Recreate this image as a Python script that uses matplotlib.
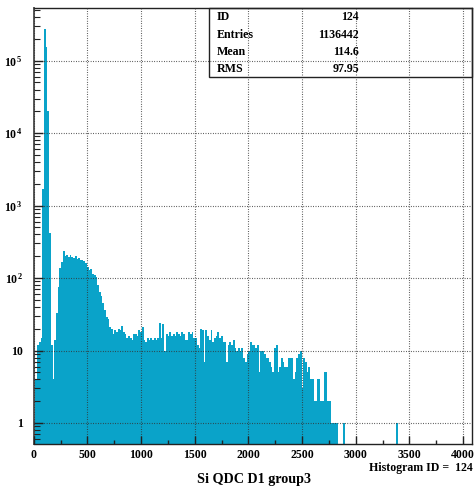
import numpy as np
import matplotlib
matplotlib.use("Agg")
import matplotlib.pyplot as plt
from matplotlib.ticker import FixedLocator, FixedFormatter, NullFormatter

plt.rcParams['font.family'] = ['Liberation Serif', 'DejaVu Serif']
plt.rcParams['font.weight'] = 'bold'
plt.rcParams['mathtext.fontset'] = 'custom'
plt.rcParams['mathtext.rm'] = 'Liberation Serif:bold'
plt.rcParams['mathtext.it'] = 'Liberation Serif:bold'
plt.rcParams['mathtext.bf'] = 'Liberation Serif:bold'

# ---- data (bin width 16 channels, starting at 0) ----
bin_width = 16
counts = [
    3, 4, 12, 13, 15, 1700, 270000, 156000, 20500, 420,
    12, 4, 14, 33, 76, 137, 165, 240, 200, 210,
    195, 205, 195, 190, 200, 185, 190, 180, 175, 170,
    160, 140, 130, 135, 115, 110, 105, 80, 65, 57,
    45, 36, 29, 27, 21, 20, 17, 19, 18, 20,
    19, 22, 18, 17, 15, 16, 15, 14, 17, 17,
    16, 19, 18, 21, 14, 13, 15, 14, 15, 14,
    15, 14, 15, 24, 15, 23, 10, 17, 16, 18,
    16, 17, 16, 18, 17, 16, 18, 17, 14, 14,
    18, 17, 18, 15, 15, 12, 11, 20, 19, 7,
    19, 16, 14, 19, 13, 15, 16, 18, 15, 16,
    13, 13, 7, 12, 13, 12, 14, 11, 10, 11,
    10, 11, 8, 7, 9, 10, 13, 12, 12, 11,
    12, 5, 10, 10, 9, 8, 8, 7, 6, 5,
    11, 12, 5, 6, 8, 7, 6, 6, 8, 8,
    8, 4, 5, 8, 9, 10, 3, 8, 7, 5,
    6, 4, 4, 2, 2, 4, 4, 2, 2, 5,
    5, 2, 2, 1, 1, 1, 1, 0, 0, 0,
    1,
]
extra_bin_start = [3376]
extra_bin_count = [1]
n_bins = 256

x_ticks = [0, 500, 1000, 1500, 2000, 2500, 3000, 3500, 4000]
x_tick_labels = ['0', '500', '1000', '1500', '2000', '2500', '3000', '3500', '4000']
y_ticks = [1, 10, 1e2, 1e3, 1e4, 1e5]
y_tick_labels = ['1', '10', '10$^{\\,2}$', '10$^{\\,3}$', '10$^{\\,4}$', '10$^{\\,5}$']

stat_names = ['ID', 'Entries', 'Mean', 'RMS']
stat_values = ['124', '1136442', '114.6', '97.95']
x_title = 'Si QDC D1 group3'
hist_id_text = 'Histogram ID =  124'

# ---- build full histogram ----
full = np.zeros(n_bins)
full[:len(counts)] = counts
for s, c in zip(extra_bin_start, extra_bin_count):
    full[s // bin_width] = c
edges = np.arange(n_bins + 1) * bin_width

W, H = 474, 492
fig = plt.figure(figsize=(W / 100, H / 100), dpi=100)
x0, x1, y0, y1 = 33.7, 471.7, 8, 444
ax = fig.add_axes([x0 / W, 1 - y1 / H, (x1 - x0) / W, (y1 - y0) / H])

ax.set_yscale('log')
ax.stairs(full, edges, fill=True, color='#0aa3c9', baseline=0.3, linewidth=0)

ax.set_xlim(0, 4081)
ax.set_ylim(0.513, 5.33e5)

ax.xaxis.set_major_locator(FixedLocator(x_ticks))
ax.xaxis.set_major_formatter(FixedFormatter(x_tick_labels))
ax.xaxis.set_minor_locator(FixedLocator(np.arange(250, 4001, 500)))
ax.yaxis.set_major_locator(FixedLocator(y_ticks))
ax.yaxis.set_major_formatter(FixedFormatter(y_tick_labels))
minor_y = [m * 10.0 ** d for d in range(-1, 6) for m in range(2, 10)]
ax.yaxis.set_minor_locator(FixedLocator(minor_y))
ax.yaxis.set_minor_formatter(NullFormatter())

ax.tick_params(axis='both', which='both', direction='in', top=False, right=False,
               color='#222222', labelsize=8.5)
ax.tick_params(axis='x', which='major', length=5.5, width=1.0, pad=3.5)
ax.tick_params(axis='x', which='minor', length=3, width=1.0)
ax.tick_params(axis='y', which='major', length=6.5, width=1.0, pad=7.5)
ax.tick_params(axis='y', which='minor', length=4, width=0.8)
for lab in ax.get_xticklabels() + ax.get_yticklabels():
    lab.set_fontweight('bold')

ax.grid(True, which='major', color='#333333', linestyle=(0, (0.7, 1.5)), linewidth=0.8)
ax.set_axisbelow(False)
for sp in ax.spines.values():
    sp.set_linewidth(1.0)
    sp.set_color('#222222')
ax.spines['left'].set_color('#555555')
ax.spines['left'].set_linewidth(1.4)

# stats box
bx0, bx1, by0, by1 = 209, x1, y0, 77.3
fig.patches.append(plt.Rectangle((bx0 / W, 1 - by1 / H), (bx1 - bx0) / W, (by1 - by0) / H,
                                 transform=fig.transFigure, fill=False,
                                 edgecolor='#222222', linewidth=1.0))
rows_y = [17, 34.5, 52, 69.5]
for name, val, ry in zip(stat_names, stat_values, rows_y):
    fig.text(217 / W, 1 - ry / H, name, ha='left', va='center', fontsize=8.6, fontweight='bold')
    fig.text(359 / W, 1 - ry / H, val, ha='right', va='center', fontsize=8.6, fontweight='bold')

fig.text(254 / W, 1 - 479 / H, x_title, ha='center', va='center', fontsize=10.2, fontweight='bold')
fig.text(472.5 / W, 1 - 468.5 / H, hist_id_text, ha='right', va='center', fontsize=8.6, fontweight='bold')

fig.savefig('out.png', dpi=100)
